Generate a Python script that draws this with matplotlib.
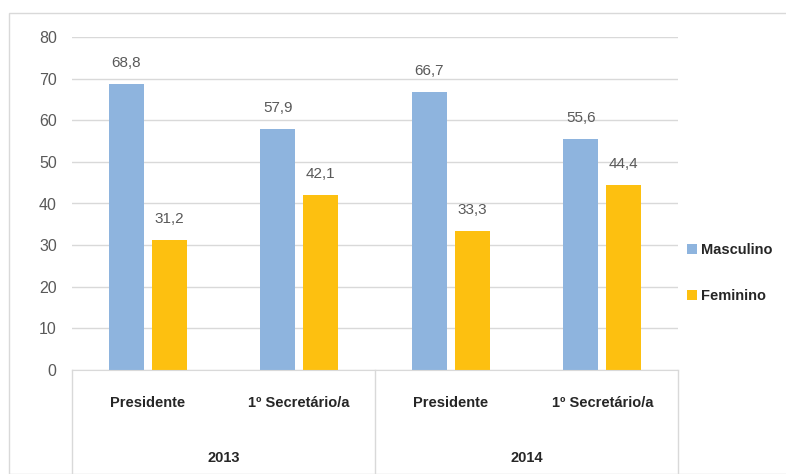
import numpy as np
import matplotlib.pyplot as plt
from matplotlib.patches import Rectangle
from matplotlib.lines import Line2D

plt.rcParams['font.family'] = ['Liberation Sans', 'DejaVu Sans']

# dados
cargos = ['Presidente', '1º Secretário/a', 'Presidente', '1º Secretário/a']
anos = ['2013', '2014']
masculino = [68.8, 57.9, 66.7, 55.6]
feminino = [31.2, 42.1, 33.3, 44.4]
series = ['Masculino', 'Feminino']

azul = '#8EB4DE'
amarelo = '#FDC010'
cinza = '#595959'

fig = plt.figure(figsize=(7.86, 4.74), dpi=100)
# borda do gráfico
fig.patches.append(Rectangle((9/786, 0), 1, 1 - 13/474, transform=fig.transFigure,
                             fill=False, edgecolor='#d9d9d9', linewidth=1))

ax = fig.add_axes([72/786, 1 - 370/474, 606/786, 333/474])

x = np.arange(len(cargos))
w = 0.23
off = 0.142
b1 = ax.bar(x - off, masculino, w, color=azul, label=series[0], zorder=2)
b2 = ax.bar(x + off, feminino, w, color=amarelo, label=series[1], zorder=2)

for bars, vals in ((b1, masculino), (b2, feminino)):
    for b, v in zip(bars, vals):
        ax.annotate(f'{v:.1f}'.replace('.', ','), (b.get_x() + b.get_width()/2, v),
                    xytext=(0, 10), textcoords='offset points', ha='center', va='bottom',
                    fontsize=11, color=cinza)

ax.set_xlim(-0.5, 3.5)
ax.set_ylim(0, 80)
ax.set_yticks(range(0, 81, 10))
ax.yaxis.grid(True, color='#d9d9d9', linewidth=1, zorder=0)
ax.tick_params(axis='y', length=0, labelsize=11.5, labelcolor=cinza, pad=11)
ax.tick_params(axis='x', length=0, bottom=False, labelbottom=False)
for s in ['top', 'right', 'left']:
    ax.spines[s].set_visible(False)
ax.spines['bottom'].set_color('#d9d9d9')

# rótulos de categoria em dois níveis
for xi, c in zip(x, cargos):
    ax.text(xi, -0.1, c, transform=ax.get_xaxis_transform(), ha='center', va='center',
            fontsize=10.5, fontweight='bold', color='#262626')
for i, a in enumerate(anos):
    ax.text(2*i + 0.5, -0.265, a, transform=ax.get_xaxis_transform(), ha='center',
            va='center', fontsize=10.5, fontweight='bold', color='#262626')
for xs in (-0.5, 1.5, 3.5):
    ax.add_line(Line2D([xs, xs], [0, -0.32], transform=ax.get_xaxis_transform(),
                       color='#d9d9d9', linewidth=1, clip_on=False))

leg = ax.legend(loc='center left', bbox_to_anchor=(0.993, 0.29), frameon=False,
                handlelength=0.7, handleheight=0.7, handletextpad=0.3, labelspacing=2.2,
                prop={'size': 10.5, 'weight': 'bold'})
for t in leg.get_texts():
    t.set_color('#262626')

fig.savefig('out.png', dpi=100)
